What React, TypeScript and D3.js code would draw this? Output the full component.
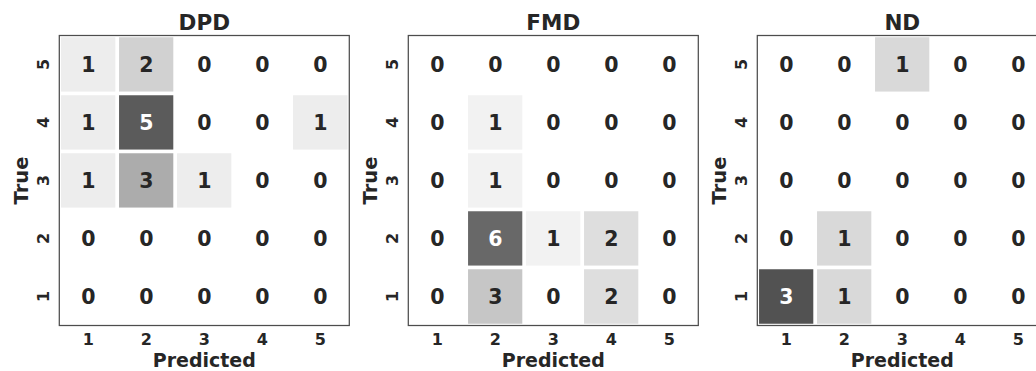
import React from "react";
import * as d3 from "d3";

// confusion matrices, rows listed from true class 5 (top) down to 1 (bottom)
const titles = ["DPD", "FMD", "ND"];
const classes = ["1", "2", "3", "4", "5"];
const trueOrder = ["5", "4", "3", "2", "1"];

const dpd = [
  [1, 2, 0, 0, 0],
  [1, 5, 0, 0, 1],
  [1, 3, 1, 0, 0],
  [0, 0, 0, 0, 0],
  [0, 0, 0, 0, 0],
];
const fmd = [
  [0, 0, 0, 0, 0],
  [0, 1, 0, 0, 0],
  [0, 1, 0, 0, 0],
  [0, 6, 1, 2, 0],
  [0, 3, 0, 2, 0],
];
const nd = [
  [0, 0, 1, 0, 0],
  [0, 0, 0, 0, 0],
  [0, 0, 0, 0, 0],
  [0, 1, 0, 0, 0],
  [3, 1, 0, 0, 0],
];

const matrices = [dpd, fmd, nd];
const greys = ["#ffffff", "#f0f0f0", "#d9d9d9", "#bdbdbd", "#969696", "#737373", "#525252", "#252525", "#000000"];

const W = 1036;
const H = 371;
const size = 290;
const top = 35.5;
const font = "'DejaVu Sans', sans-serif";
const dark = "#262626";

function lum(c: string) {
  const r = d3.rgb(c);
  const f = (v: number) => {
    const s = v / 255;
    return s <= 0.03928 ? s / 12.92 : Math.pow((s + 0.055) / 1.055, 2.4);
  };
  return 0.2126 * f(r.r) + 0.7152 * f(r.g) + 0.0722 * f(r.b);
}

function Panel({ idx, x0 }: { idx: number; x0: number }) {
  const m = matrices[idx];
  const vmax = d3.max(m, (row) => d3.sum(row)) || 1;
  const color = d3
    .scaleLinear<string>()
    .domain(greys.map((_, i) => (i / (greys.length - 1)) * vmax))
    .range(greys)
    .clamp(true);

  const x = d3.scaleBand().domain(classes).range([x0, x0 + size]);
  const y = d3.scaleBand().domain(trueOrder).range([top, top + size]);
  const clipId = `clip-${idx}`;

  return (
    <g>
      <defs>
        <clipPath id={clipId}>
          <rect x={x0} y={top} width={size} height={size} />
        </clipPath>
      </defs>
      <g clipPath={`url(#${clipId})`}>
        {m.map((row, ri) =>
          row.map((v, ci) => (
            <rect
              key={`${ri}-${ci}`}
              x={x(classes[ci])}
              y={y(trueOrder[ri])}
              width={x.bandwidth()}
              height={y.bandwidth()}
              fill={color(v)}
              stroke="#ffffff"
              strokeWidth={3.5}
            />
          ))
        )}
      </g>
      {m.map((row, ri) =>
        row.map((v, ci) => {
          const c = color(v);
          return (
            <text
              key={`t${ri}-${ci}`}
              x={(x(classes[ci]) || 0) + x.bandwidth() / 2}
              y={(y(trueOrder[ri]) || 0) + y.bandwidth() / 2}
              textAnchor="middle"
              dominantBaseline="central"
              fontFamily={font}
              fontWeight="bold"
              fontSize={20.5}
              fill={lum(c) > 0.408 ? dark : "#ffffff"}
            >
              {v}
            </text>
          );
        })
      )}
      <rect x={x0} y={top} width={size} height={size} fill="none" stroke="#4d4d4d" strokeWidth={1.25} />
      {classes.map((c) => (
        <text
          key={`x${c}`}
          x={(x(c) || 0) + x.bandwidth() / 2}
          y={345}
          textAnchor="middle"
          fontFamily={font}
          fontWeight="bold"
          fontSize={16}
          fill={dark}
        >
          {c}
        </text>
      ))}
      {trueOrder.map((c) => {
        const cy = (y(c) || 0) + y.bandwidth() / 2;
        const cx = x0 - 16;
        return (
          <text
            key={`y${c}`}
            transform={`translate(${cx},${cy}) rotate(-90)`}
            textAnchor="middle"
            dominantBaseline="central"
            fontFamily={font}
            fontWeight="bold"
            fontSize={16}
            fill={dark}
          >
            {c}
          </text>
        );
      })}
      <text
        x={x0 + size / 2}
        y={366.5}
        textAnchor="middle"
        fontFamily={font}
        fontWeight="bold"
        fontSize={19}
        fill={dark}
      >
        Predicted
      </text>
      <text
        transform={`translate(${x0 - 31},${top + size / 2}) rotate(-90)`}
        textAnchor="middle"
        fontFamily={font}
        fontWeight="bold"
        fontSize={19.5}
        fill={dark}
      >
        True
      </text>
      <text
        x={x0 + size / 2}
        y={30}
        textAnchor="middle"
        fontFamily={font}
        fontWeight="bold"
        fontSize={21.5}
        fill={dark}
      >
        {titles[idx]}
      </text>
    </g>
  );
}

export default function App() {
  const panelX = [59.3, 408.3, 757.3];
  return (
    <div style={{ position: "absolute", left: 0, top: 0 }}>
      <svg width={W} height={H} style={{ display: "block", background: "#ffffff" }}>
        {titles.map((t, i) => (
          <Panel key={t} idx={i} x0={panelX[i]} />
        ))}
      </svg>
    </div>
  );
}
